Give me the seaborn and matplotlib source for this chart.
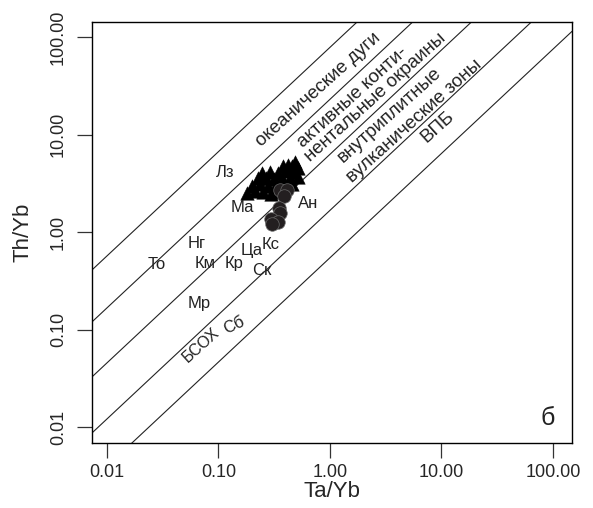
import numpy as np
import pandas as pd
import matplotlib
matplotlib.use("Agg")
import matplotlib.pyplot as plt
import seaborn as sns

# ---------------- data ----------------
tri_ta = [0.180, 0.2125, 0.2506, 0.2957, 0.3489,
          0.1997, 0.2356, 0.2779, 0.328, 0.3868, 0.4563,
          0.2261, 0.2667, 0.3147, 0.3711, 0.4379, 0.5164,
          0.2455, 0.2896, 0.3418, 0.4031, 0.4754,
          0.3789, 0.4563, 0.5164, 0.42, 0.49]
tri_th = [2.50, 2.62, 2.55, 2.48, 2.60,
          3.00, 3.10, 2.95, 3.05, 3.00, 3.10,
          3.55, 3.62, 3.50, 3.60, 3.55, 3.65,
          4.05, 4.15, 4.00, 4.20, 4.10,
          4.75, 4.70, 4.50, 4.90, 5.20]

circ_ta = [0.356, 0.411, 0.387, 0.349, 0.356, 0.296, 0.342, 0.302]
circ_th = [2.70, 2.70, 2.34, 1.76, 1.57, 1.36, 1.27, 1.21]

# boundary lines: log10(Th/Yb) = a + b*log10(Ta/Yb)
line_a = [1.894, 1.361, 0.797, 0.222, -0.264]
line_b = 1.07

x_ticks = [0.01, 0.1, 1, 10, 100]
x_tick_labels = ["0.01", "0.10", "1.00", "10.00", "100.00"]
y_ticks = [0.01, 0.1, 1, 10, 100]
y_tick_labels = ["0.01", "0.10", "1.00", "10.00", "100.00"]

site_labels = ["Лз", "Ма", "Ан", "Нг", "Кс", "Ца", "Кр", "Ск", "То", "Км", "Мр", "Сб"]
site_x = [0.114, 0.1625, 0.635, 0.0641, 0.2957, 0.1997, 0.1377, 0.2455, 0.0281, 0.0757, 0.0668, 0.1377]
site_y = [4.12, 1.80, 1.98, 0.771, 0.753, 0.653, 0.470, 0.407, 0.459, 0.470, 0.187, 0.111]

zone_labels = ["океанические дуги", "активные конти-", "нентальные окраины",
               "внутриплитные", "вулканические зоны", "ВПБ", "БСОХ"]
zone_x = [0.780, 1.607, 2.58, 3.45, 5.70, 9.3, 0.0700]
zone_y = [28.6, 24.2, 23.8, 15.8, 13.66, 11.9, 0.0700]

# ---------------- style ----------------
sns.set_style("ticks")
plt.rcParams['font.family'] = ['Liberation Sans', 'DejaVu Sans']

fig = plt.figure(figsize=(5.93, 5.08), dpi=100)
ax = fig.add_axes([0.155, 0.128, 0.8096, 0.8287])
ax.set_xscale("log")
ax.set_yscale("log")
xlim = (0.00734, 148)
ylim = (0.00686, 142.6)
ax.set_xlim(*xlim)
ax.set_ylim(*ylim)

# boundary lines
xs = np.array([xlim[0], xlim[1]])
for a in line_a:
    ys = 10 ** (a + line_b * np.log10(xs))
    ax.plot(xs, ys, color="#222222", lw=0.8, zorder=1)

df_tri = pd.DataFrame({"Ta/Yb": tri_ta, "Th/Yb": tri_th})
df_circ = pd.DataFrame({"Ta/Yb": circ_ta, "Th/Yb": circ_th})
sns.scatterplot(data=df_tri, x="Ta/Yb", y="Th/Yb", marker="^", s=95,
                color="black", edgecolor="black", linewidth=0.3, ax=ax, zorder=3)
sns.scatterplot(data=df_circ, x="Ta/Yb", y="Th/Yb", marker="o", s=95,
                color="#231f20", edgecolor="#6a6a6a", linewidth=0.5, ax=ax, zorder=4)

for t, x, y in zip(site_labels, site_x, site_y):
    rot = 25 if t == "Сб" else 0
    ax.text(x, y, t, fontsize=12, ha="center", va="center", rotation=rot,
            color="#222222", zorder=5)

for t, x, y in zip(zone_labels, zone_x, zone_y):
    fs = 11.5 if t == "БСОХ" else 13.5
    ax.text(x, y, t, fontsize=fs, ha="center", va="center", rotation=42,
            rotation_mode="anchor", color="#222222", zorder=5)

ax.text(90.2, 0.0124, "б", fontsize=18, ha="center", va="center", color="#222222")

ax.xaxis.set_major_locator(matplotlib.ticker.FixedLocator(x_ticks))
ax.yaxis.set_major_locator(matplotlib.ticker.FixedLocator(y_ticks))
ax.xaxis.set_minor_locator(matplotlib.ticker.NullLocator())
ax.yaxis.set_minor_locator(matplotlib.ticker.NullLocator())
ax.set_xticklabels(x_tick_labels, fontsize=13)
ax.set_yticklabels(y_tick_labels, fontsize=13, rotation=90, va="center")
ax.tick_params(axis="both", direction="out", length=11, width=0.9, color="#333333")
ax.tick_params(axis="x", pad=4)
ax.tick_params(axis="y", pad=7)

for sp in ax.spines.values():
    sp.set_visible(True)
    sp.set_linewidth(1.0)
    sp.set_color("black")

ax.set_xlabel("Ta/Yb", fontsize=16, labelpad=0)
ax.set_ylabel("Th/Yb", fontsize=16, labelpad=12)

fig.savefig("out.png", dpi=100)
